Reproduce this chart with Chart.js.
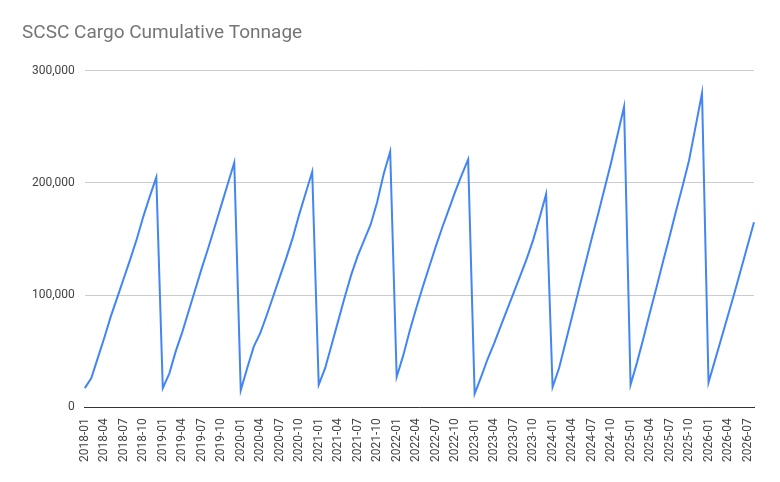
<!DOCTYPE html>
<html>
<head>
<meta charset="utf-8">
<script src="https://cdn.jsdelivr.net/npm/chart.js@4"></script>
<style>
  body { margin: 0; background: #fff; }
  #wrap { width: 780px; height: 482px; position: relative; }
</style>
</head>
<body>
<div id="wrap"><canvas id="chart"></canvas></div>
<script>
// monthly cumulative tonnage, thousands, 2018-01 .. 2026-08
const startYear = 2018;
const y2018 = [17, 26, 44, 62, 81, 98, 115, 132, 150, 170, 188, 205];
const y2019 = [17, 30, 50, 67, 86, 105, 124, 142, 161, 180, 199, 218];
const y2020 = [15, 35, 54, 66, 82, 99, 116, 133, 151, 172, 191, 210];
const y2021 = [20, 35, 56, 77, 98, 118, 135, 149, 163, 183, 208, 228];
const y2022 = [27, 46, 68, 88, 107, 125, 143, 160, 176, 192, 207, 221];
const y2023 = [12, 27, 43, 57, 72, 87, 102, 117, 132, 149, 169, 190];
const y2024 = [18, 35, 58, 81, 104, 127, 150, 172, 195, 218, 243, 268];
const y2025 = [20, 40, 62, 85, 107, 130, 152, 175, 197, 220, 250, 280];
const y2026 = [22, 42, 62, 82, 102, 123, 144, 165];
const yTicks = [0, 100000, 200000, 300000];

const values = [y2018, y2019, y2020, y2021, y2022, y2023, y2024, y2025, y2026]
  .flat().map(v => v * 1000);
const labels = values.map((_, i) => {
  const y = startYear + Math.floor(i / 12);
  const m = (i % 12) + 1;
  return y + "-" + String(m).padStart(2, "0");
});

new Chart(document.getElementById("chart"), {
  type: "line",
  data: {
    labels: labels,
    datasets: [{
      data: values,
      borderColor: "#4285f4",
      borderWidth: 2,
      pointRadius: 0,
      tension: 0
    }]
  },
  options: {
    responsive: true,
    maintainAspectRatio: false,
    animation: false,
    layout: { padding: { left: 22, right: 26, top: 8, bottom: 17 } },
    plugins: {
      legend: { display: false },
      tooltip: { enabled: false },
      title: {
        display: true,
        text: "SCSC Cargo Cumulative Tonnage",
        align: "start",
        color: "#757575",
        font: { family: "Roboto", size: 19, weight: "normal" },
        padding: { top: 14, bottom: 26 }
      }
    },
    scales: {
      x: {
        offset: false,
        grid: { display: false },
        border: { color: "#333" },
        ticks: {
          autoSkip: false,
          maxRotation: 90,
          minRotation: 90,
          color: "#444",
          font: { family: "Roboto", size: 12 },
          callback: function (v, i) { return i % 3 === 0 ? labels[i] : null; }
        }
      },
      y: {
        min: 0,
        max: 300000,
        afterBuildTicks: axis => { axis.ticks = yTicks.map(v => ({ value: v })); },
        grid: { color: "#ccc", drawTicks: false },
        border: { display: false },
        ticks: {
          padding: 10,
          color: "#444",
          font: { family: "Roboto", size: 12 },
          callback: v => v.toLocaleString("en-US")
        }
      }
    }
  }
});
</script>
</body>
</html>
